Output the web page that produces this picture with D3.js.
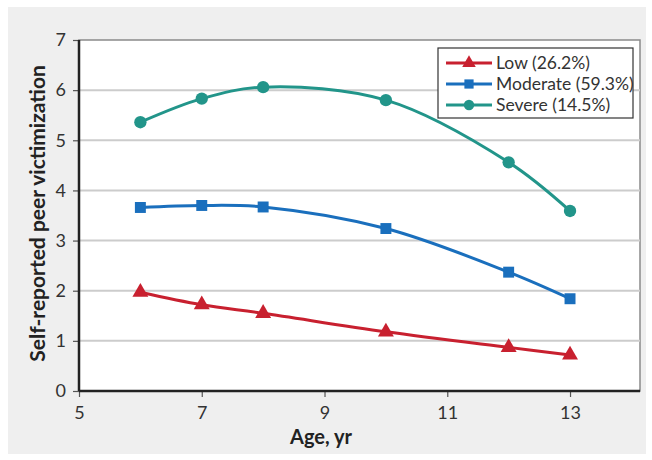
<!DOCTYPE html>
<html>
<head>
    <script src="https://cdn.jsdelivr.net/npm/d3@7"></script>
    <style>
        body { margin: 0; background: #fff; }
        text { font-family: "Lato", "Open Sans", sans-serif; }
    </style>
</head>
<body>
<div id="chart"></div>
<script>

    var ages = [6, 7, 8, 10, 12, 13];
    var low = [1.97, 1.72, 1.55, 1.18, 0.87, 0.72];
    var moderate = [3.66, 3.70, 3.67, 3.24, 2.37, 1.84];
    var severe = [5.36, 5.83, 6.06, 5.80, 4.56, 3.59];
    var seriesNames = ['Low (26.2%)', 'Moderate (59.3%)', 'Severe (14.5%)'];
    var xTicks = [5, 7, 9, 11, 13];
    var yTicks = [0, 1, 2, 3, 4, 5, 6, 7];

    var width = 652, height = 460;
    var plot = { left: 79, top: 40, right: 640, bottom: 391 };

    var series = [
        { name: seriesNames[0], values: low, color: '#c8202f', shape: d3.symbolTriangle },
        { name: seriesNames[1], values: moderate, color: '#1a6fbd', shape: d3.symbolSquare },
        { name: seriesNames[2], values: severe, color: '#22958a', shape: d3.symbolCircle }
    ];

    var xScale = d3.scaleLinear().domain([5, 14.14]).range([plot.left, plot.right]);
    var yScale = d3.scaleLinear().domain([0, 7]).range([plot.bottom, plot.top]);

    var svg = d3.select('#chart').append('svg')
        .attr('width', width)
        .attr('height', height);

    // grey panel
    svg.append('rect')
        .attr('x', 8).attr('y', 7)
        .attr('width', 638).attr('height', 447)
        .attr('fill', '#efefef');

    // plot area
    svg.append('rect')
        .attr('x', plot.left).attr('y', plot.top)
        .attr('width', plot.right - plot.left).attr('height', plot.bottom - plot.top)
        .attr('fill', '#fff')
        .attr('stroke', '#8a8a8a')
        .attr('stroke-width', 1.5);

    // gridlines
    svg.append('g').selectAll('line')
        .data(yTicks.slice(1, -1))
        .enter().append('line')
        .attr('x1', plot.left).attr('x2', plot.right)
        .attr('y1', function(d) { return yScale(d); })
        .attr('y2', function(d) { return yScale(d); })
        .attr('stroke', '#cccccc')
        .attr('stroke-width', 2);

    var yAxis = d3.axisLeft(yScale).tickValues(yTicks).tickFormat(d3.format('d')).tickSize(6).tickPadding(7);
    var gy = svg.append('g')
        .attr('transform', 'translate(' + plot.left + ',0)')
        .call(yAxis);

    var xAxis = d3.axisBottom(xScale).tickValues(xTicks).tickFormat(d3.format('d')).tickSize(6).tickPadding(9);
    var gx = svg.append('g')
        .attr('transform', 'translate(0,' + plot.bottom + ')')
        .call(xAxis);

    [gx, gy].forEach(function(g) {
        g.select('.domain').remove();
        g.selectAll('.tick line').attr('stroke', '#555').attr('stroke-width', 1.2);
        g.selectAll('.tick text').attr('fill', '#333').style('font-size', '18px');
    });

    // dark axis lines
    svg.append('line')
        .attr('x1', plot.left).attr('x2', plot.left)
        .attr('y1', plot.top).attr('y2', plot.bottom)
        .attr('stroke', '#222').attr('stroke-width', 2.5);
    svg.append('line')
        .attr('x1', plot.left).attr('x2', plot.right)
        .attr('y1', plot.bottom).attr('y2', plot.bottom)
        .attr('stroke', '#222').attr('stroke-width', 2.5);

    var line = d3.line()
        .x(function(d, i) { return xScale(ages[i]); })
        .y(function(d) { return yScale(d); })
        .curve(d3.curveCatmullRom.alpha(0.5));

    series.forEach(function(s) {
        svg.append('path')
            .attr('d', line(s.values))
            .attr('fill', 'none')
            .attr('stroke', s.color)
            .attr('stroke-width', 3);

        svg.append('g').selectAll('path')
            .data(s.values)
            .enter().append('path')
            .attr('transform', function(d, i) { return 'translate(' + xScale(ages[i]) + ',' + yScale(d) + ')'; })
            .attr('d', d3.symbol().type(s.shape).size(s.shape === d3.symbolTriangle ? 110 : 120))
            .attr('fill', s.color);
    });

    // axis titles
    svg.append('text')
        .attr('x', 321)
        .attr('y', 444)
        .attr('text-anchor', 'middle')
        .style('font-size', '20px')
        .style('font-weight', 'bold')
        .attr('fill', '#222')
        .text('Age, yr');

    svg.append('text')
        .attr('transform', 'translate(45,' + (yScale(3.5) - 2) + ') rotate(-90)')
        .attr('text-anchor', 'middle')
        .style('font-size', '21px')
        .style('font-weight', 'bold')
        .attr('fill', '#222')
        .text('Self-reported peer victimization');

    // legend
    var legend = svg.append('g').attr('transform', 'translate(438,48)');
    legend.append('rect')
        .attr('width', 195).attr('height', 70)
        .attr('fill', '#fff')
        .attr('stroke', '#333')
        .attr('stroke-width', 1.2);

    series.forEach(function(s, i) {
        var row = legend.append('g').attr('transform', 'translate(0,' + (15 + i * 21) + ')');
        row.append('line')
            .attr('x1', 8).attr('x2', 54)
            .attr('stroke', s.color).attr('stroke-width', 3);
        row.append('path')
            .attr('transform', 'translate(31,0)')
            .attr('d', d3.symbol().type(s.shape).size(s.shape === d3.symbolTriangle ? 80 : 85))
            .attr('fill', s.color);
        row.append('text')
            .attr('x', 58).attr('y', 6)
            .style('font-size', '17.5px')
            .attr('fill', '#333')
            .text(s.name);
    });

</script>
</body>
</html>
